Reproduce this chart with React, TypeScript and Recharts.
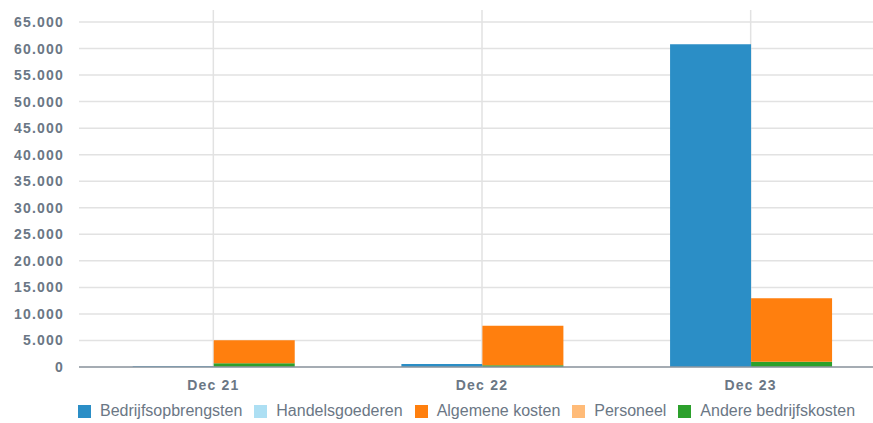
import React from "react"
import { BarChart, Bar, XAxis, YAxis, CartesianGrid, Legend } from "recharts"

// periods on the x axis
const months = ["Dec 21", "Dec 22", "Dec 23"]

// series values per period
const bedrijfsopbrengsten = [150, 550, 60800]
const handelsgoederen = [0, 0, 0]
const algemeneKosten = [4350, 7430, 11950]
const personeel = [0, 0, 0]
const andereBedrijfskosten = [700, 350, 980]

const yTicks = [0, 5000, 10000, 15000, 20000, 25000, 30000, 35000, 40000, 45000, 50000, 55000, 60000, 65000]

const series = [
  { key: "bedrijfsopbrengsten", name: "Bedrijfsopbrengsten", color: "#2b8ec6" },
  { key: "handelsgoederen", name: "Handelsgoederen", color: "#addff3" },
  { key: "algemeneKosten", name: "Algemene kosten", color: "#ff7f0e" },
  { key: "personeel", name: "Personeel", color: "#ffbb78" },
  { key: "andereBedrijfskosten", name: "Andere bedrijfskosten", color: "#2ca02c" },
]

const chartData = months.map((month, i) => ({
  month,
  bedrijfsopbrengsten: bedrijfsopbrengsten[i],
  handelsgoederen: handelsgoederen[i],
  algemeneKosten: algemeneKosten[i],
  personeel: personeel[i],
  andereBedrijfskosten: andereBedrijfskosten[i],
}))

const FONT = "'Liberation Sans', Arial, Helvetica, sans-serif"
const TEXT_COLOR = "#6b7785"

const formatNumber = (v: number) => String(v).replace(/\B(?=(\d{3})+(?!\d))/g, ".")

const renderLegend = () => (
  <div
    style={{
      display: "flex",
      alignItems: "center",
      height: 24,
      paddingLeft: 78,
      fontFamily: FONT,
      fontSize: 16,
      color: TEXT_COLOR,
    }}
  >
    {series.map((s) => (
      <div key={s.key} style={{ display: "flex", alignItems: "center", marginRight: 12 }}>
        <span style={{ display: "inline-block", width: 13, height: 13, background: s.color, marginRight: 9 }} />
        <span>{s.name}</span>
      </div>
    ))}
  </div>
)

export default function App() {
  return (
    <div style={{ position: "absolute", left: 0, top: 0, width: 873, height: 423, overflow: "hidden", background: "#fff" }}>
      <BarChart
        width={885}
        height={423}
        data={chartData}
        margin={{ top: 10, right: 0, left: 0, bottom: 0 }}
        barCategoryGap="20%"
        barGap={0}
      >
        <CartesianGrid stroke="#e2e2e2" strokeWidth={1.5} syncWithTicks />
        <XAxis
          dataKey="month"
          height={32}
          tickSize={0}
          tickMargin={13}
          axisLine={{ stroke: "#8e97a1", strokeWidth: 1.5 }}
          tick={{ fill: TEXT_COLOR, fontSize: 14, fontWeight: "bold", fontFamily: FONT, letterSpacing: 1.2 }}
        />
        <YAxis
          width={79}
          domain={[0, 67260]}
          ticks={yTicks}
          tickFormatter={formatNumber}
          axisLine={false}
          tickSize={0}
          tickMargin={15}
          tick={{ fill: TEXT_COLOR, fontSize: 14, fontWeight: "bold", fontFamily: FONT, letterSpacing: 1.2 }}
        />
        <Legend verticalAlign="bottom" content={renderLegend} />
        <Bar dataKey="bedrijfsopbrengsten" stackId="a" fill="#2b8ec6" isAnimationActive={false} />
        <Bar dataKey="handelsgoederen" stackId="a" fill="#addff3" isAnimationActive={false} />
        <Bar dataKey="andereBedrijfskosten" stackId="b" fill="#2ca02c" isAnimationActive={false} />
        <Bar dataKey="algemeneKosten" stackId="b" fill="#ff7f0e" isAnimationActive={false} />
        <Bar dataKey="personeel" stackId="b" fill="#ffbb78" isAnimationActive={false} />
      </BarChart>
    </div>
  )
}
